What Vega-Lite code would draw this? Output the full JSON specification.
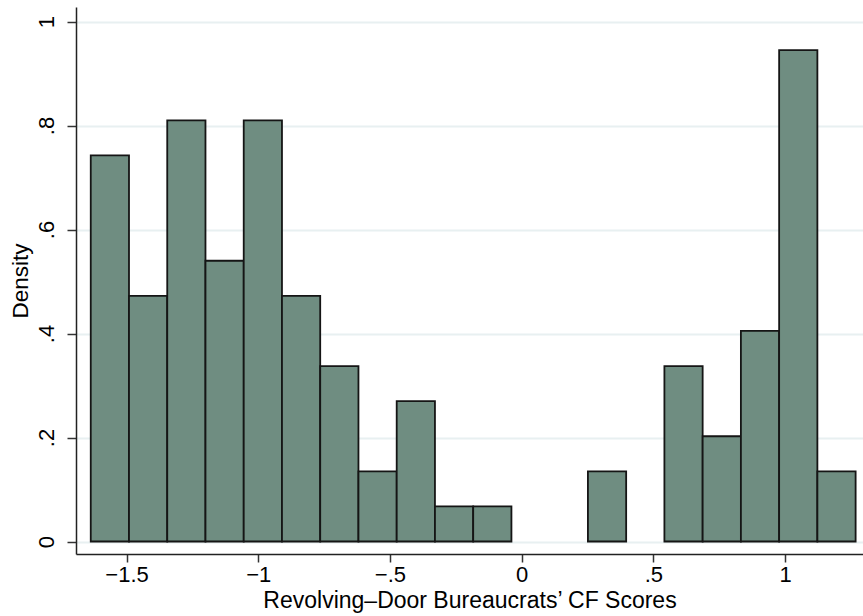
{
  "$schema": "https://vega.github.io/schema/vega-lite/v6.json",
  "width": 787,
  "height": 547,
  "autosize": {"type": "none"},
  "padding": {"left": 76, "top": 7, "right": 0, "bottom": 62},
  "background": "white",
  "config": {
    "font": "Liberation Sans",
    "view": {"stroke": null}
  },
  "data": {
    "values": [
      {"x0": -1.6360, "x1": -1.4908, "density": 0.7425},
      {"x0": -1.4908, "x1": -1.3456, "density": 0.4725},
      {"x0": -1.3456, "x1": -1.2004, "density": 0.8100},
      {"x0": -1.2004, "x1": -1.0552, "density": 0.5400},
      {"x0": -1.0552, "x1": -0.9100, "density": 0.8100},
      {"x0": -0.9100, "x1": -0.7648, "density": 0.4725},
      {"x0": -0.7648, "x1": -0.6196, "density": 0.3375},
      {"x0": -0.6196, "x1": -0.4744, "density": 0.1350},
      {"x0": -0.4744, "x1": -0.3292, "density": 0.2700},
      {"x0": -0.3292, "x1": -0.1840, "density": 0.0675},
      {"x0": -0.1840, "x1": -0.0388, "density": 0.0675},
      {"x0": 0.2516, "x1": 0.3968, "density": 0.1350},
      {"x0": 0.5420, "x1": 0.6872, "density": 0.3375},
      {"x0": 0.6872, "x1": 0.8324, "density": 0.2025},
      {"x0": 0.8324, "x1": 0.9776, "density": 0.4050},
      {"x0": 0.9776, "x1": 1.1228, "density": 0.9450},
      {"x0": 1.1228, "x1": 1.2680, "density": 0.1350}
    ]
  },
  "mark": {"type": "rect", "fill": "#6f8d81", "stroke": "#151515", "strokeWidth": 1.8},
  "encoding": {
    "x": {
      "field": "x0",
      "type": "quantitative",
      "scale": {"domain": [-1.692, 1.296], "nice": false, "zero": false},
      "axis": {
        "values": [-1.5, -1, -0.5, 0, 0.5, 1],
        "labelExpr": "datum.value == -1.5 ? '−1.5' : datum.value == -1 ? '−1' : datum.value == -0.5 ? '−.5' : datum.value == 0 ? '0' : datum.value == 0.5 ? '.5' : '1'",
        "title": "Revolving–Door Bureaucrats’ CF Scores",
        "grid": false,
        "domainColor": "#222222",
        "domainWidth": 1.5,
        "tickColor": "#333333",
        "tickWidth": 1.5,
        "tickSize": 8,
        "labelFontSize": 22,
        "labelColor": "#000000",
        "labelPadding": 2,
        "titleFontSize": 23,
        "titleFontWeight": "normal",
        "titleColor": "#000000",
        "titlePadding": 4
      }
    },
    "x2": {"field": "x1"},
    "y": {
      "field": "density",
      "type": "quantitative",
      "scale": {"domain": [-0.024, 1.028], "nice": false, "zero": false},
      "axis": {
        "values": [0, 0.2, 0.4, 0.6, 0.8, 1],
        "labelExpr": "datum.value == 0 ? '0' : datum.value == 1 ? '1' : replace(format(datum.value, '.1f'), '0.', '.')",
        "title": "Density",
        "grid": true,
        "gridColor": "#e8f0f1",
        "gridWidth": 2,
        "domainColor": "#222222",
        "domainWidth": 1.5,
        "tickColor": "#333333",
        "tickWidth": 1.5,
        "tickSize": 9,
        "labelAngle": -90,
        "labelAlign": "center",
        "labelBaseline": "alphabetic",
        "labelPadding": 14,
        "labelFontSize": 22,
        "labelColor": "#000000",
        "titleFontSize": 22.5,
        "titleFontWeight": "normal",
        "titleColor": "#000000",
        "titlePadding": 3
      }
    },
    "y2": {"datum": 0}
  }
}
